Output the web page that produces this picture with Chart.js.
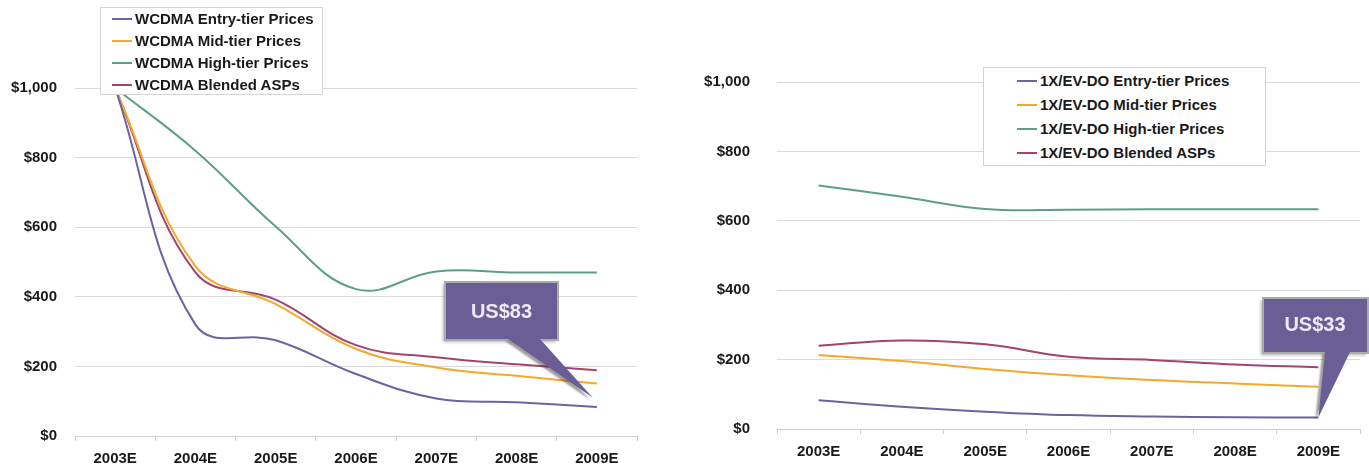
<!DOCTYPE html>
<html>
<head>
<meta charset="utf-8">
<script src="https://cdn.jsdelivr.net/npm/chart.js@4.4.1/dist/chart.umd.min.js"></script>
<style>
  body { margin: 0; background: #fff; width: 1369px; height: 465px; overflow: hidden; position: relative;
         font-family: "Liberation Sans", Arial, sans-serif; }
  .wrap { position: absolute; top: 0; height: 465px; }
  #leftWrap { left: 0; width: 650px; }
  #rightWrap { left: 680px; width: 689px; }
  .legend { position: absolute; background: #fff; border: 1px solid #d4d4d4; box-sizing: border-box;
            font-weight: bold; font-size: 15px; color: #1a1a1a; }
  .legend div { position: relative; white-space: nowrap; }
  .legend span { position: absolute; width: 20px; height: 2px; }
  .callout { position: absolute; text-align: center; color: #eeebf6; font-weight: bold; font-size: 20px; }
</style>
</head>
<body>
<div class="wrap" id="leftWrap">
  <canvas id="wcdmaChart"></canvas>
  <div class="legend" id="wcdmaLegend" style="left:100px; top:7px; width:223px; height:88px;"></div>
  <div class="callout" style="left:445px; top:282px; width:113px; height:58px; line-height:58px;">US$83</div>
</div>
<div class="wrap" id="rightWrap">
  <canvas id="evdoChart"></canvas>
  <div class="legend" id="evdoLegend" style="left:303px; top:67px; width:283px; height:99px;"></div>
  <div class="callout" style="left:583px; top:298px; width:104px; height:55px; line-height:52px;">US$33</div>
</div>
<script>
// Categorías y series
const years = ['2003E', '2004E', '2005E', '2006E', '2007E', '2008E', '2009E'];
const yTicks = [0, 200, 400, 600, 800, 1000];

const wcdmaEntry   = [1000, 320, 275, 178, 108, 97, 83];
const wcdmaMid     = [1000, 488, 379, 250, 197, 173, 151];
const wcdmaHigh    = [1000, 820, 602, 422, 473, 470, 470];
const wcdmaBlended = [1000, 470, 392, 261, 226, 206, 189];

const evdoEntry   = [83, 64, 50, 40, 36, 34, 33];
const evdoMid     = [213, 196, 173, 155, 141, 131, 122];
const evdoHigh    = [702, 669, 634, 632, 633, 633, 633];
const evdoBlended = [240, 255, 244, 208, 199, 186, 178];

const wcdmaLabels = ['WCDMA Entry-tier Prices', 'WCDMA Mid-tier Prices', 'WCDMA High-tier Prices', 'WCDMA Blended ASPs'];
const evdoLabels  = ['1X/EV-DO Entry-tier Prices', '1X/EV-DO Mid-tier Prices', '1X/EV-DO High-tier Prices', '1X/EV-DO Blended ASPs'];
const colors = ['#6e62a2', '#f4a92c', '#5c9f86', '#a3436f'];

// Globo con flecha (anotación)
const calloutPlugin = {
    id: 'callout',
    afterDatasetsDraw(chart, args, opts) {
        if (!opts.box) return;
        const ctx = chart.ctx;
        const tipX = chart.scales.x.getPixelForValue(opts.tipIndex) + opts.tipDx;
        const tipY = chart.scales.y.getPixelForValue(opts.tipValue);
        const [x1, y1, x2, y2] = opts.box;
        ctx.save();
        ctx.fillStyle = '#6b5e96';
        ctx.shadowColor = 'rgba(0,0,0,0.3)';
        ctx.shadowOffsetX = -2;
        ctx.shadowOffsetY = 2;
        ctx.shadowBlur = 3;
        ctx.fillRect(x1, y1, x2 - x1, y2 - y1);
        ctx.shadowColor = 'transparent';
        ctx.strokeStyle = '#ababab';
        ctx.lineWidth = 2;
        ctx.strokeRect(x1, y1, x2 - x1, y2 - y1);
        ctx.shadowColor = 'rgba(40,40,40,0.45)';
        ctx.shadowOffsetX = -3;
        ctx.shadowOffsetY = 2;
        ctx.shadowBlur = 2;
        ctx.beginPath();
        ctx.moveTo(opts.base[0], y2 - 1);
        ctx.lineTo(opts.base[1], y2 - 1);
        ctx.lineTo(tipX, tipY);
        ctx.closePath();
        ctx.fill();
        ctx.restore();
    }
};

function buildLegend(el, labels, rowH, padTop, lineLeft, textLeft) {
    labels.forEach((txt, i) => {
        const row = document.createElement('div');
        row.style.height = rowH + 'px';
        row.style.lineHeight = rowH + 'px';
        row.style.paddingLeft = textLeft + 'px';
        if (i === 0) row.style.marginTop = padTop + 'px';
        const sw = document.createElement('span');
        sw.style.left = lineLeft + 'px';
        sw.style.top = (rowH / 2 - 1) + 'px';
        sw.style.background = colors[i];
        row.appendChild(sw);
        row.appendChild(document.createTextNode(txt));
        el.appendChild(row);
    });
}

function makeChart(id, series, labels, cfg) {
    const ctx = document.getElementById(id).getContext('2d');
    return new Chart(ctx, {
        type: 'line',
        data: {
            labels: years,
            datasets: series.map((data, i) => ({
                label: labels[i],
                data: data,
                borderColor: colors[i],
                backgroundColor: colors[i],
                borderWidth: 2,
                pointRadius: 0,
                tension: 0.4,
                fill: false
            }))
        },
        options: {
            responsive: true,
            maintainAspectRatio: false,
            animation: false,
            layout: { padding: { top: cfg.top, right: cfg.right, left: 0, bottom: 0 } },
            scales: {
                x: {
                    offset: true,
                    grid: { offset: true, drawOnChartArea: false, drawTicks: true, tickLength: 5, color: '#cfcfcf' },
                    border: { color: '#cfcfcf' },
                    ticks: { font: { family: 'Liberation Sans', size: 15, weight: 'bold' }, color: '#1a1a1a', padding: cfg.xPad, maxRotation: 0 },
                    afterFit: s => { s.height = cfg.xHeight; }
                },
                y: {
                    min: 0,
                    max: 1000,
                    afterBuildTicks: s => { s.ticks = yTicks.map(v => ({ value: v })); },
                    grid: { color: '#dadada', drawTicks: false },
                    border: { display: false },
                    ticks: {
                        font: { family: 'Liberation Sans', size: 15, weight: 'bold' },
                        color: '#1a1a1a',
                        padding: cfg.yPad,
                        callback: v => '$' + v.toLocaleString('en-US')
                    },
                    afterFit: s => { s.width = cfg.yWidth; }
                }
            },
            plugins: {
                legend: { display: false },
                tooltip: { enabled: false },
                callout: cfg.callout
            }
        },
        plugins: [calloutPlugin]
    });
}

makeChart('wcdmaChart', [wcdmaEntry, wcdmaMid, wcdmaHigh, wcdmaBlended], wcdmaLabels, {
    top: 88, right: 13, xHeight: 29, xPad: 9, yPad: 18, yWidth: 75,
    callout: { box: [445, 282, 558, 340], base: [508, 540], tipIndex: 6, tipDx: -4, tipValue: 110 }
});
makeChart('evdoChart', [evdoEntry, evdoMid, evdoHigh, evdoBlended], evdoLabels, {
    top: 82, right: 9, xHeight: 35, xPad: 9, yPad: 27, yWidth: 97,
    callout: { box: [583, 298, 688, 353], base: [645, 670], tipIndex: 6, tipDx: 0, tipValue: 33 }
});

buildLegend(document.getElementById('wcdmaLegend'), wcdmaLabels, 22, 0, 11, 34);
buildLegend(document.getElementById('evdoLegend'), evdoLabels, 24, 1, 33, 56);
</script>
</body>
</html>
